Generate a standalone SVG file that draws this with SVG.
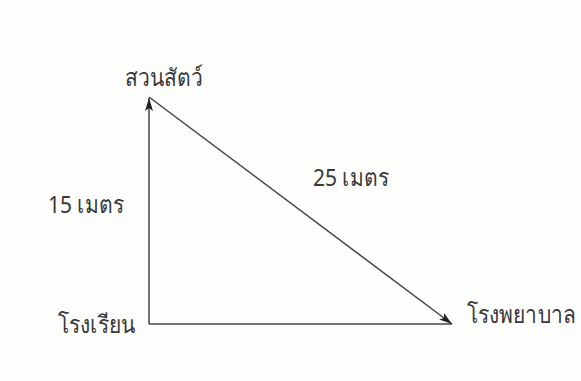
<svg xmlns="http://www.w3.org/2000/svg" width="581" height="381" viewBox="0 0 581 381">
<defs>
<style>
.lbl{font-family:"Noto Sans","Liberation Sans","DejaVu Sans",sans-serif;font-size:21px;fill:#383838}
.edge{stroke:#444;stroke-width:1.5;fill:none}
</style>
<marker id="ah" markerWidth="14" markerHeight="10" refX="13" refY="5" orient="auto" markerUnits="userSpaceOnUse">
<path d="M0,1 L13,5 L0,9 L3,5 Z" fill="#222"/>
</marker>
</defs>
<rect width="581" height="381" fill="#fdfdfc"/>
<g id="connectors">
<line class="edge" x1="149" y1="324" x2="149" y2="98" marker-end="url(#ah)"/>
<line class="edge" x1="149" y1="324" x2="452" y2="324"/>
<line class="edge" x1="149" y1="97" x2="452" y2="324" marker-end="url(#ah)"/>
</g>
<g id="zoo"><text class="lbl" transform="translate(125,86) scale(1,1.15)">สวนสัตว์</text></g>
<g id="school"><text class="lbl" transform="translate(58,333) scale(1,1.15)">โรงเรียน</text></g>
<g id="hospital"><text class="lbl" transform="translate(467,323) scale(1,1.15)">โรงพยาบาล</text></g>
<g id="label15"><text class="lbl" transform="translate(48,213) scale(1,1.15)">15 เมตร</text></g>
<g id="label25"><text class="lbl" transform="translate(313,186) scale(1,1.15)">25 เมตร</text></g>
</svg>
